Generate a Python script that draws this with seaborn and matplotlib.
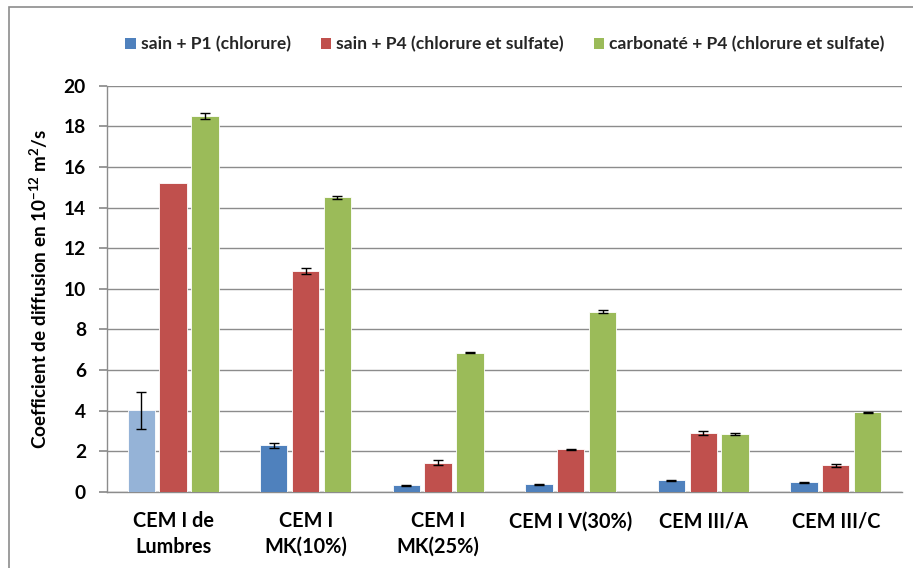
import matplotlib
matplotlib.use("Agg")
import matplotlib.pyplot as plt
import seaborn as sns
import pandas as pd
from matplotlib.patches import Rectangle, Patch

categories = ["CEM I de\nLumbres", "CEM I\nMK(10%)", "CEM I\nMK(25%)",
              "CEM I V(30%)", "CEM III/A", "CEM III/C"]
series = ["sain + P1 (chlorure)",
          "sain + P4 (chlorure et sulfate)",
          "carbonaté + P4 (chlorure et sulfate)"]
sain_p1 = [4.02, 2.30, 0.33, 0.38, 0.57, 0.48]
sain_p4 = [15.2, 10.9, 1.43, 2.10, 2.88, 1.30]
carb_p4 = [18.5, 14.5, 6.85, 8.87, 2.87, 3.92]
err_p1 = [0.91, 0.13, 0.03, 0.03, 0.03, 0.02]
err_p4 = [0.0, 0.15, 0.12, 0.03, 0.10, 0.05]
err_c4 = [0.15, 0.08, 0.02, 0.08, 0.05, 0.03]

colors = ["#4F81BD", "#C0504D", "#9BBB59"]
highlight = "#95B3D7"

df = pd.DataFrame({
    "cat": categories * 3,
    "serie": [s for s in series for _ in categories],
    "val": sain_p1 + sain_p4 + carb_p4,
})

sns.set_theme(style="white")
plt.rcParams["font.family"] = ["Lato", "DejaVu Sans"]
plt.rcParams["font.weight"] = "bold"
plt.rcParams["mathtext.fontset"] = "custom"
plt.rcParams["mathtext.rm"] = "Lato:bold"
plt.rcParams["mathtext.default"] = "rm"

fig = plt.figure(figsize=(9.13, 5.68), dpi=100)
ax = fig.add_axes([0.117, 0.134, 0.871, 0.715])

sns.barplot(data=df, x="cat", y="val", hue="serie", hue_order=series,
            order=categories, palette=colors, width=0.72, gap=0.14,
            errorbar=None, ax=ax, legend=False, saturation=1,
            edgecolor="white", linewidth=0.6, zorder=3)

errs = [err_p1, err_p4, err_c4]
vals = [sain_p1, sain_p4, carb_p4]
bar_groups = list(ax.containers)
for k, cont in enumerate(bar_groups):
    for j, bar in enumerate(cont):
        if k == 0 and j == 0:
            bar.set_facecolor(highlight)
        if errs[k][j] > 0:
            x = bar.get_x() + bar.get_width() / 2
            ax.errorbar(x, vals[k][j], yerr=errs[k][j], fmt="none",
                        ecolor="black", elinewidth=1, capsize=3.5,
                        capthick=1, zorder=4)

ax.set_ylim(0, 20)
ax.set_xlim(-0.5, 5.5)
ax.set_yticks(range(0, 21, 2))
ax.yaxis.grid(True, color="#8c8c8c", linewidth=1, zorder=0)
ax.set_axisbelow(True)
for side in ["top", "right"]:
    ax.spines[side].set_visible(False)
for side in ["left", "bottom"]:
    ax.spines[side].set_color("#8c8c8c")
    ax.spines[side].set_linewidth(1)
ax.tick_params(axis="y", left=True, length=6, color="#8c8c8c",
               labelsize=13.8, pad=9, labelcolor="black")
ax.tick_params(axis="x", bottom=False, labelsize=14.3, pad=8,
               labelcolor="black")
for lab in ax.get_xticklabels() + ax.get_yticklabels():
    lab.set_fontweight("bold")
    lab.set_linespacing(1.35)
ax.set_xlabel("")
ax.set_ylabel("Coefficient de diffusion en 10$^{-12}$ m$^{2}$/s",
              fontsize=13.6, fontweight="bold", labelpad=10, color="black")

handles = [Patch(facecolor=c, edgecolor="none") for c in colors]
leg = fig.legend(handles, series, loc="center", bbox_to_anchor=(0.553, 0.922),
                 ncol=3, frameon=False, fontsize=12.6, handlelength=0.6,
                 handleheight=0.6, handletextpad=0.3, columnspacing=1.7)
for t in leg.get_texts():
    t.set_fontweight("bold")

fig.patches.append(Rectangle((0.0099, -0.05), 1.1, 1.0377, transform=fig.transFigure,
                             fill=False, edgecolor="#8c8c8c", linewidth=1.2))

fig.savefig("out.png", dpi=100)
